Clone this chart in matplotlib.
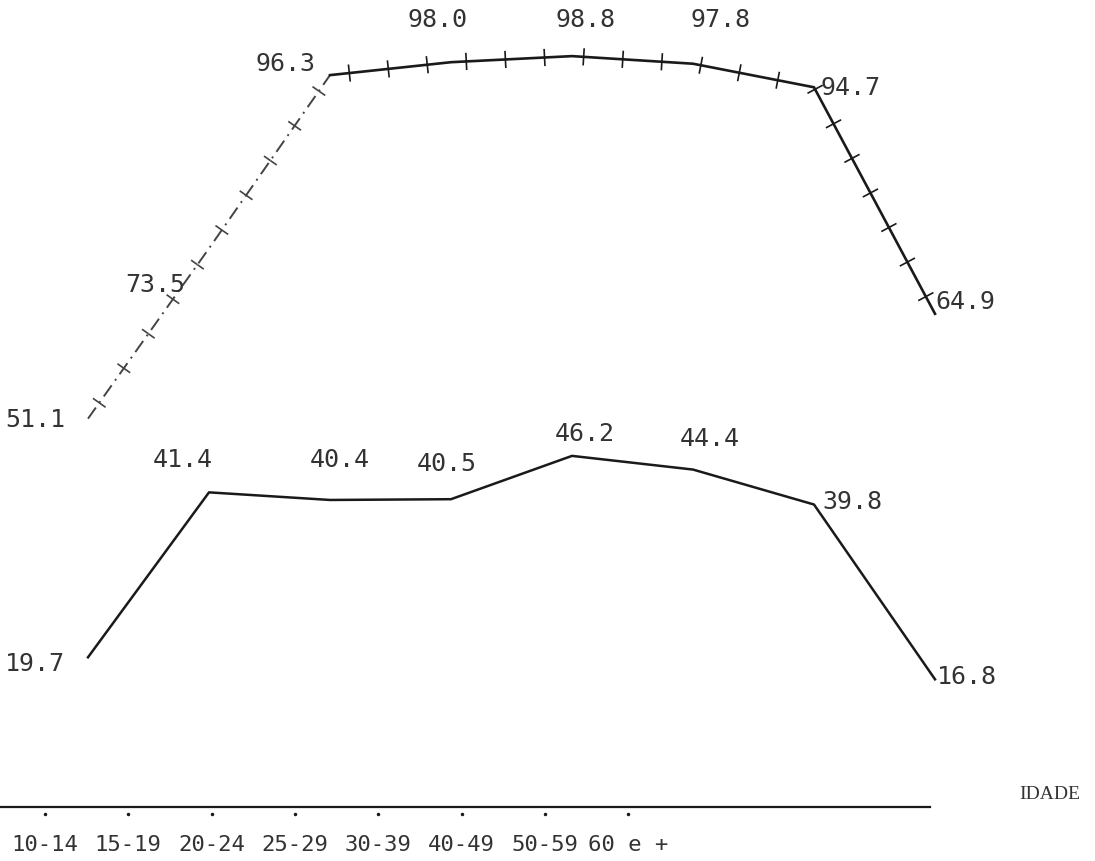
"""Taxa por grupo de idade - two hand-drawn curves on a shared scale (scan recreation)."""

import numpy as np
import matplotlib
matplotlib.use("Agg")
import matplotlib.pyplot as plt
import matplotlib.patheffects as pe

IDADES = ["10-14", "15-19", "20-24", "25-29", "30-39", "40-49", "50-59", "60 e +"]
SERIE_ALTA = [51.1, 73.5, 96.3, 98.0, 98.8, 97.8, 94.7, 64.9]
SERIE_BAIXA = [19.7, 41.4, 40.4, 40.5, 46.2, 44.4, 39.8, 16.8]

# label offsets in pixels (dx, dy up) relative to each point
OFF_ALTA = [(-53, 0), (-54, -36), (-45, 12), (-14, 43), (13, 37), (27, 45), (36, 0), (30, 13)]
OFF_BAIXA = [(-53, -6), (-26, 33), (10, 41), (-4, 36), (13, 23), (17, 32), (38, 4), (32, 3)]

W, H, DPI = 1095, 862, 100
PX_X = 121.0          # pixels between categories
X0 = 88.0             # pixel of first category
PX_Y = 7.6            # pixels per unit
Y0 = 808.0            # pixel row of the zero line
INK = "#1a1a1a"
MONO = "DejaVu Sans Mono"


def main():
    fig = plt.figure(figsize=(W / DPI, H / DPI), dpi=DPI)
    ax = fig.add_axes([0, 0, 1, 1])
    ax.set_xlim(-X0 / PX_X, (W - X0) / PX_X)
    ax.set_ylim(-(H - Y0) / PX_Y, Y0 / PX_Y)
    ax.axis("off")

    x = np.arange(len(IDADES))
    ticks = [pe.TickedStroke(spacing=28, angle=90, length=0.2, linewidth=1.2),
             pe.TickedStroke(spacing=28, angle=-90, length=0.2, linewidth=1.2),
             pe.Normal()]

    # upper curve: first part drawn light/dash-dot, rest solid, both with cross ticks
    ax.plot(x[:3], SERIE_ALTA[:3], color="#444", lw=1.4, ls=(0, (7, 3, 1, 3)),
            path_effects=ticks)
    ax.plot(x[2:], SERIE_ALTA[2:], color=INK, lw=1.9, path_effects=ticks,
            solid_joinstyle="round")
    ax.plot(x, SERIE_BAIXA, color=INK, lw=1.8, solid_joinstyle="round")

    for serie, offs in ((SERIE_ALTA, OFF_ALTA), (SERIE_BAIXA, OFF_BAIXA)):
        for xi, v, (dx, dy) in zip(x, serie, offs):
            ax.annotate(f"{v:.1f}", (xi, v), xytext=(dx, dy), textcoords="offset pixels",
                        ha="center", va="center", fontsize=18, family=MONO, color="#333")

    # baseline
    ax.axhline(0, xmin=0, xmax=930 / W, color=INK, lw=1.6)
    ax.text((1050 - X0) / PX_X, (Y0 - 795) / PX_Y, "IDADE", ha="center", va="center",
            fontsize=14, family="Liberation Serif", color="#333")

    # age-group labels sit on their own (tighter) horizontal scale
    ax2 = ax.twiny()
    ax2.set_xlim(-45 / 83.3, (W - 45) / 83.3)
    ax2.axis("off")
    for i, lab in enumerate(IDADES):
        ax2.text(i, -(845 - Y0) / PX_Y, lab, ha="center", va="center",
                 fontsize=16, family=MONO, color="#333")
    ax2.plot(np.arange(len(IDADES)), np.zeros(len(IDADES)) - 0.9, ls="none",
             marker=".", ms=3, color=INK)

    fig.savefig("out.png", dpi=DPI)
    plt.close(fig)


if __name__ == "__main__":
    main()
